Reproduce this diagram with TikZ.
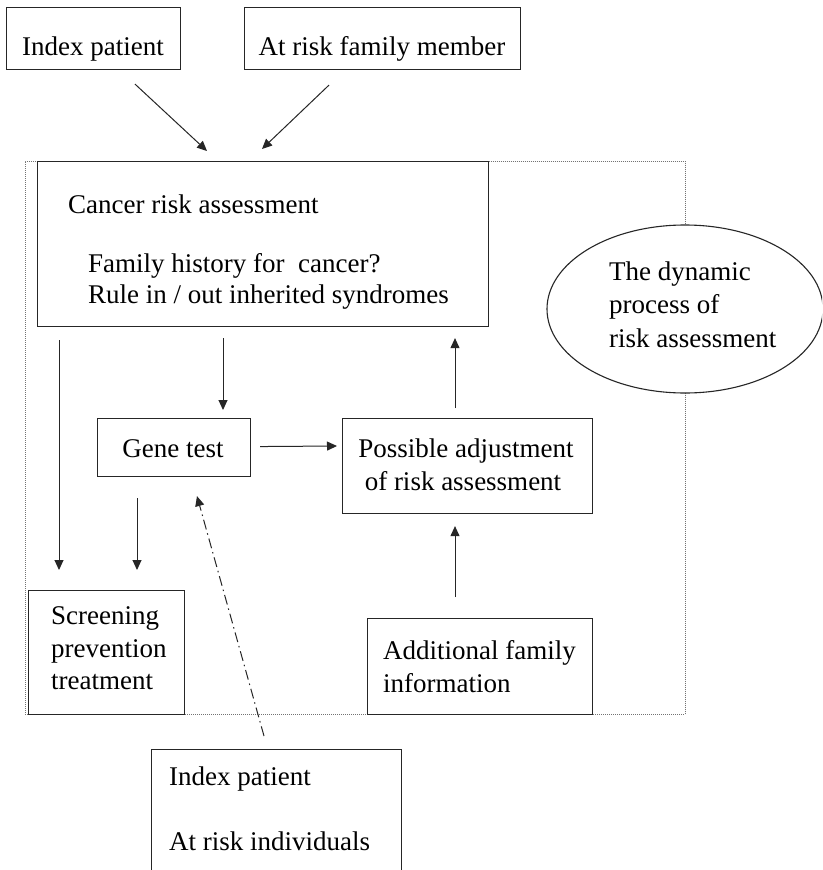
\documentclass[tikz,border=0pt]{standalone}
\usepackage{fontspec}
\setmainfont{Liberation Serif}
\usetikzlibrary{arrows.meta,shapes.geometric,calc}
\begin{document}
\begin{tikzpicture}[x=1pt,y=-1pt,
  box/.style={draw=black!85, line width=1.1pt, inner sep=0pt, anchor=north west},
  lbl/.style={inner sep=0pt, font=\fontsize{27}{33}\selectfont, anchor=base west},
  clbl/.style={lbl, anchor=base},
  arr/.style={draw=black!85, line width=1pt, -{Triangle[length=10pt,width=9pt]}},
  dashdotarr/.style={arr, dash pattern=on 10pt off 4pt on 1.5pt off 4pt},
  loopframe/.style={draw=black!55, line width=0.8pt, dash pattern=on 1pt off 1pt, inner sep=0pt, anchor=north west}
]
\useasboundingbox (0,0) rectangle (822,870);
\clip (0,0) rectangle (822,870);
\fill[white] (0,0) rectangle (822,870);

% dotted frame around the assessment loop
\node[loopframe, minimum width=660pt, minimum height=553pt] (loop) at (25,161) {};

% entry points
\node[box, minimum width=174pt, minimum height=62pt] (idx) at (6,7) {};
\node[clbl] (idx-t) at (93,55) {Index patient};
\node[box, minimum width=276pt, minimum height=62pt] (atrisk) at (244,7) {};
\node[clbl] (atrisk-t) at (382,55) {At risk family member};

% cancer risk assessment
\node[box, fill=white, minimum width=451pt, minimum height=165pt] (cancer) at (37,161) {};
\node[lbl] (cancer-t1) at (68,213) {Cancer risk assessment};
\node[lbl] (cancer-t2) at (88,272) {Family history for~ cancer?};
\node[lbl] (cancer-t3) at (88,303) {Rule in / out inherited syndromes};

% the dynamic process
\node[ellipse, draw=black!85, line width=1.1pt, fill=white, inner sep=0pt,
      minimum width=276pt, minimum height=168pt] (dynamic) at (685,309) {};
\node[lbl] (dynamic-t1) at (609,280) {The dynamic};
\node[lbl] (dynamic-t2) at (609,313) {process of};
\node[lbl] (dynamic-t3) at (609,347) {risk assessment};

% gene test
\node[box, minimum width=153pt, minimum height=58pt] (gene) at (97,418) {};
\node[clbl] (gene-t) at (173,457) {Gene test};

% possible adjustment
\node[box, minimum width=250pt, minimum height=95pt] (adjust) at (342,418) {};
\node[clbl] (adjust-t1) at (466,457) {Possible adjustment};
\node[clbl] (adjust-t2) at (463,490) {of risk assessment};

% additional family information
\node[box, fill=white, minimum width=225pt, minimum height=96pt] (addinfo) at (367,618) {};
\node[lbl] (addinfo-t1) at (383,659) {Additional family};
\node[lbl] (addinfo-t2) at (383,692) {information};

% screening / prevention / treatment
\node[box, fill=white, minimum width=156pt, minimum height=124pt] (screen) at (28,590) {};
\node[lbl] (screen-t1) at (51,624) {Screening};
\node[lbl] (screen-t2) at (51,657) {prevention};
\node[lbl] (screen-t3) at (51,689) {treatment};

% tested individuals
\node[box, minimum width=250pt, minimum height=200pt] (tested) at (151,749) {};
\node[lbl] (tested-t1) at (169,785) {Index patient};
\node[lbl] (tested-t2) at (169,850) {At risk individuals};

% connectors
\draw[arr] ($(idx.south west)+(129,14)$) -- ($(cancer.north west)+(170,-10)$);
\draw[arr] ($(atrisk.south west)+(85,15)$) -- ($(cancer.north west)+(225,-12)$);
\draw[arr] ($(cancer.south west)+(22,13)$) -- ($(screen.north west)+(31,-20)$);
\draw[arr] ($(cancer.south west)+(186,11)$) -- ($(gene.north west)+(126,-8)$);
\draw[arr] ($(gene.east)+(9,-1)$) -- ($(adjust.north west)+(-5,28)$);
\draw[arr] ($(adjust.north west)+(113,-10)$) -- ($(cancer.south west)+(418,11)$);
\draw[arr] ($(addinfo.north west)+(88,-21)$) -- ($(adjust.south west)+(113,12)$);
\draw[arr] ($(gene.south west)+(40,21)$) -- ($(screen.north west)+(109,-20)$);
\draw[dashdotarr] ($(tested.north west)+(113,-13)$) -- ($(gene.south west)+(100,19)$);
\end{tikzpicture}
\end{document}
